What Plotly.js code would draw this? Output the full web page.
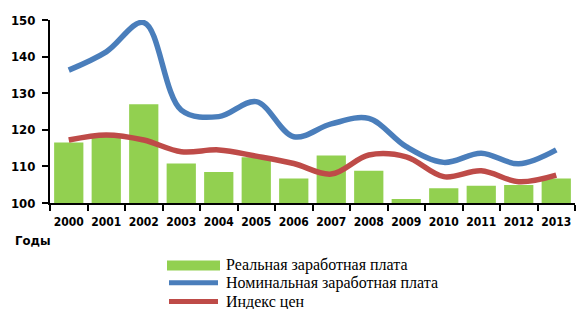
<!DOCTYPE html>
<html><head><meta charset="utf-8">
<script src="https://cdn.plot.ly/plotly-3.0.1.min.js"></script>
<style>html,body{margin:0;padding:0;background:#fff;}#c{width:578px;height:309px;}</style>
</head><body><div id="c"></div>
<script>
const years = ["2000","2001","2002","2003","2004","2005","2006","2007","2008","2009","2010","2011","2012","2013"];
const realWage = [116.5,118,127,110.8,108.5,112.5,106.7,113,108.8,101.1,104,104.7,104.9,106.7];
const nominalWage = [136.3,141.3,149.3,125.4,123.6,127.7,118.1,121.6,123.1,115.4,111.1,113.6,110.7,114.5];
const priceIndex = [117.2,118.6,117.2,114,114.5,112.8,110.8,107.9,113.1,112.6,107.2,108.8,105.8,107.6];
const yTicks = [100,110,120,130,140,150];
const seriesNames = ["Реальная заработная плата","Номинальная заработная плата","Индекс цен"];
const axisTitle = "Годы";

const green = "#92D050", blue = "#4A7EBB", red = "#BE4B48";
const traces = [
  {type:"bar", x:years, y:realWage, name:seriesNames[0], marker:{color:green}, showlegend:false, hoverinfo:"x+y"},
  {type:"scatter", mode:"lines", x:years, y:nominalWage, name:seriesNames[1], line:{color:blue, width:5.5, shape:"spline", smoothing:1}, showlegend:false},
  {type:"scatter", mode:"lines", x:years, y:priceIndex, name:seriesNames[2], line:{color:red, width:5.5, shape:"spline", smoothing:1}, showlegend:false}
];
const L=50, R=575, T=20, B=203;
const px = v => (v-L)/(R-L);
const py = v => (B-v)/(B-T);
const tickFam = "DejaVu Sans Condensed, Liberation Sans Narrow, sans-serif";
const legFont = {family:"Liberation Serif, serif", size:16, color:"#000"};
const layout = {
  width:578, height:309,
  margin:{l:L, r:578-R, t:T, b:309-B},
  paper_bgcolor:"#fff", plot_bgcolor:"#fff",
  bargap:0.22,
  xaxis:{type:"category", tickson:"boundaries", ticks:"outside", ticklen:6, tickwidth:2, tickcolor:"#000", tickangle:0,
         ticklabelstandoff:7,
         showline:true, linecolor:"#000", linewidth:2, showgrid:false, zeroline:false,
         tickfont:{family:tickFam, size:12, color:"#000", weight:"bold"}},
  yaxis:{range:[100,150], tickvals:yTicks, ticktext:yTicks.map(String), ticks:"outside", ticklen:6, tickwidth:2, tickcolor:"#000",
         ticklabelstandoff:4,
         showline:true, linecolor:"#000", linewidth:2, showgrid:false, zeroline:false,
         tickfont:{family:tickFam, size:13, color:"#000", weight:"bold"}},
  shapes:[
    {type:"rect", xref:"paper", yref:"paper", x0:px(167), x1:px(220), y0:py(270.5), y1:py(260.5), fillcolor:green, line:{width:0}},
    {type:"line", xref:"paper", yref:"paper", x0:px(169), x1:px(218), y0:py(282.7), y1:py(282.7), line:{color:blue, width:5}},
    {type:"line", xref:"paper", yref:"paper", x0:px(169), x1:px(218), y0:py(301.5), y1:py(301.5), line:{color:red, width:5}}
  ],
  annotations:[
    {text:axisTitle, xref:"paper", yref:"paper", x:px(13), y:py(240), xanchor:"left", yanchor:"middle", showarrow:false,
     font:{family:tickFam, size:13, color:"#000", weight:"bold"}},
    {text:seriesNames[0], xref:"paper", yref:"paper", x:px(224), y:py(265), xanchor:"left", yanchor:"middle", showarrow:false, font:legFont},
    {text:seriesNames[1], xref:"paper", yref:"paper", x:px(224), y:py(283.3), xanchor:"left", yanchor:"middle", showarrow:false, font:legFont},
    {text:seriesNames[2], xref:"paper", yref:"paper", x:px(224), y:py(301.5), xanchor:"left", yanchor:"middle", showarrow:false, font:legFont}
  ]
};
Plotly.newPlot("c", traces, layout, {staticPlot:true, displayModeBar:false});
</script></body></html>
